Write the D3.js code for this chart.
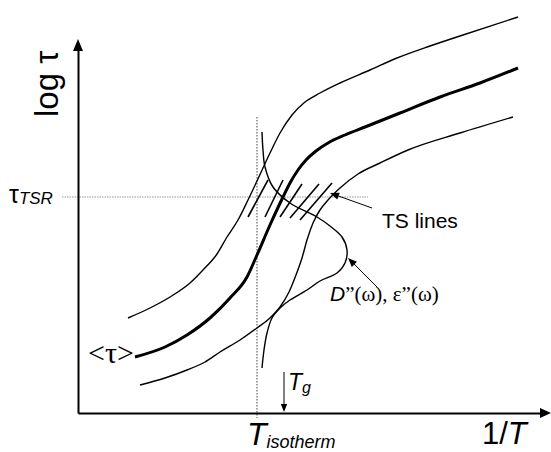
<!DOCTYPE html>
<html><head><meta charset="utf-8">
<script src="https://cdn.jsdelivr.net/npm/d3@7"></script>
<style>body{margin:0;background:#fff}svg{display:block}</style>
</head><body>
<svg id="c" width="551" height="452"></svg>
<script>
// Schematic data: [1/T (arb. units), log tau (arb. units)]
const meanTau = [[11.4,11.2],[17.4,13.2],[21.8,15.6],[26.4,19.0],[30.4,23.0],[33.8,27.2],[35.8,31.6],[38.4,37.6],[41.0,43.2],[42.4,46.0],[44.0,48.6],[45.6,50.6],[47.6,52.4],[50.0,54.0],[53.4,55.6],[57.4,57.2],[64.4,60.0],[72.4,63.2],[80.4,66.0],[88.0,69.0]];
const upperTau = [[10.0,19.0],[14.4,21.0],[18.4,23.2],[22.4,26.0],[25.0,28.6],[27.8,31.8],[29.8,35.2],[32.0,38.6],[34.0,42.6],[35.8,46.4],[38.4,52.0],[40.4,56.0],[42.8,59.6],[45.4,62.2],[48.4,64.0],[52.4,66.0],[58.4,68.6],[63.8,71.0],[70.4,73.4],[77.0,75.6],[88.0,79.2]];
const lowerTau = [[12.4,5.6],[17.4,7.0],[21.8,8.6],[25.4,10.2],[28.4,12.2],[32.4,14.6],[35.8,17.0],[38.4,19.0],[40.4,21.2],[42.2,24.2],[43.6,27.6],[44.8,31.0],[45.8,34.6],[47.0,38.0],[48.4,40.6],[50.0,42.6],[52.4,45.0],[56.0,47.8],[60.4,50.0],[66.0,52.6],[76.4,56.0],[87.0,59.2]];
const lossCurve = [[36.8,56.2],[37.0,52.6],[37.4,49.2],[39.0,45.2],[42.4,42.0],[47.8,39.2],[50.4,37.4],[52.8,35.2],[53.8,32.6],[53.4,30.0],[51.8,28.0],[48.4,26.4],[45.8,24.6],[42.4,22.6],[40.4,21.0],[38.8,19.0],[37.8,16.0],[37.2,12.6],[36.8,9.0]];
const tsLines = [[[34.0,39.2],[38.0,46.6]],[[37.4,39.2],[41.0,46.6]],[[40.4,39.2],[44.8,45.8]],[[42.4,39.0],[48.2,45.8]],[[44.4,38.6],[50.8,46.0]]];
const tIso = 35.8, tauTSR = 43.2, tG = 41.2;
const tsArrow = [[58.8,41.0],[50.4,44.0]];
const lossArrow = [[59.8,25.2],[54.0,31.0]];
const tgArrow = [[tG,8.2],[tG,0.2]];

const svg = d3.select('#c');
const x = d3.scaleLinear().domain([0,94.6]).range([78,551]);
const y = d3.scaleLinear().domain([0,74.6]).range([413,40]);
const smooth = d3.line().x(d=>x(d[0])).y(d=>y(d[1])).curve(d3.curveMonotoneX);
const line = d3.line().x(d=>x(d[0])).y(d=>y(d[1])).curve(d3.curveCatmullRom.alpha(0.5));
const seg = d3.line().x(d=>x(d[0])).y(d=>y(d[1]));

// dotted guides
svg.append('path').attr('d',seg([[tIso,59.2],[tIso,-1]])).attr('stroke','#555').attr('stroke-width',1.1).attr('stroke-dasharray','1.5,1.5').attr('fill','none');
svg.append('path').attr('d',seg([[-3.2,tauTSR],[58,tauTSR]])).attr('stroke','#999').attr('stroke-width',1).attr('stroke-dasharray','1.5,1').attr('fill','none');

// axes
const xa = x.copy().range([78,542]);
const ya = y.copy().range([413,50]);
svg.append('g').attr('transform','translate(0,413)').call(d3.axisBottom(xa).ticks(0).tickSizeOuter(0)).call(g=>g.select('.domain').attr('stroke','#000').attr('stroke-width',2));
svg.append('g').attr('transform','translate(78,0)').call(d3.axisLeft(ya).ticks(0).tickSizeOuter(0)).call(g=>g.select('.domain').attr('stroke','#000').attr('stroke-width',2));
svg.append('path').attr('d','M551,413 L540,408 L540,418 Z').attr('fill','#000');
svg.append('path').attr('d','M78,39 L73,51 L83,51 Z').attr('fill','#000');

// curves
svg.append('path').attr('d',smooth(upperTau)).attr('fill','none').attr('stroke','#000').attr('stroke-width',1.4);
svg.append('path').attr('d',smooth(lowerTau)).attr('fill','none').attr('stroke','#000').attr('stroke-width',1.4);
svg.append('path').attr('d',line(lossCurve)).attr('fill','none').attr('stroke','#000').attr('stroke-width',1.4);
svg.append('path').attr('d',smooth(meanTau)).attr('fill','none').attr('stroke','#000').attr('stroke-width',3);
tsLines.forEach(s=>svg.append('path').attr('d',seg(s)).attr('fill','none').attr('stroke','#000').attr('stroke-width',1.6));

// arrows
function arrow(p, size){
  const [a,b]=p; const x1=x(a[0]),y1=y(a[1]),x2=x(b[0]),y2=y(b[1]);
  const ang=Math.atan2(y2-y1,x2-x1);
  svg.append('line').attr('x1',x1).attr('y1',y1).attr('x2',x2-Math.cos(ang)*size*0.8).attr('y2',y2-Math.sin(ang)*size*0.8).attr('stroke','#000').attr('stroke-width',1);
  const w=size*0.4;
  const bx=x2-Math.cos(ang)*size, by=y2-Math.sin(ang)*size;
  svg.append('path').attr('d',`M${x2},${y2} L${bx-Math.sin(ang)*w},${by+Math.cos(ang)*w} L${bx+Math.sin(ang)*w},${by-Math.cos(ang)*w} Z`).attr('fill','#000');
}
arrow(tsArrow,9); arrow(lossArrow,9); arrow(tgArrow,8);

// labels
const sans='"Liberation Sans", Arial, sans-serif', serif='"Liberation Serif", "Times New Roman", serif';
svg.append('text').attr('transform','translate(58,117) rotate(-90)').attr('font-family',sans).attr('font-size',33).text('log τ');
const t1=svg.append('text').attr('x',9).attr('y',203).attr('font-family',sans);
t1.append('tspan').attr('font-size',25).text('τ');
t1.append('tspan').attr('font-size',17).attr('font-style','italic').attr('dy',1).text('TSR');
svg.append('text').attr('x',134).attr('y',363).attr('text-anchor','end').attr('font-family',serif).attr('font-size',30).text('<τ>');
svg.append('text').attr('x',382).attr('y',228).attr('font-family',sans).attr('font-size',21).text('TS lines');
const t2=svg.append('text').attr('x',330).attr('y',301).attr('font-size',21);
t2.append('tspan').attr('font-family',sans).attr('font-style','italic').text('D');
t2.append('tspan').attr('font-family',serif).text('”(ω), ε”(ω)');
const t3=svg.append('text').attr('x',288).attr('y',390).attr('font-family',sans).attr('font-style','italic');
t3.append('tspan').attr('font-size',23).text('T');
t3.append('tspan').attr('font-size',16).attr('dy',3).text('g');
const t4=svg.append('text').attr('x',247).attr('y',445).attr('font-family',sans).attr('font-style','italic');
t4.append('tspan').attr('font-size',32).text('T');
t4.append('tspan').attr('font-size',18).attr('dy',3).text('isotherm');
const t5=svg.append('text').attr('x',482).attr('y',444).attr('font-family',sans).attr('font-size',31);
t5.append('tspan').text('1/');
t5.append('tspan').attr('font-style','italic').text('T');
</script>
</body></html>
